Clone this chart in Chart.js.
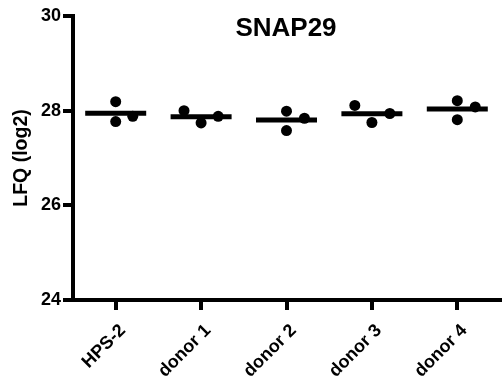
<!DOCTYPE html>
<html>
<head>
<meta charset="utf-8">
<script src="https://cdn.jsdelivr.net/npm/chart.js@4"></script>
<style>
  html, body { margin: 0; padding: 0; background: #fff; }
  #wrap { width: 503px; height: 380px; }
</style>
</head>
<body>
<div id="wrap"><canvas id="myChart" width="503" height="380"></canvas></div>
<script>
const groups = ['HPS-2', 'donor 1', 'donor 2', 'donor 3', 'donor 4'];
const rep1 = [28.19, 28.00, 27.99, 28.11, 28.21];
const rep2 = [27.77, 27.74, 27.58, 27.75, 27.81];
const rep3 = [27.88, 27.88, 27.84, 27.94, 28.08];
// horizontal spread of the dots inside a group (in category units)
const spread1 = [0, -0.2, 0, -0.2, 0];
const spread2 = [0, 0, 0, 0, 0];
const spread3 = [0.2, 0.2, 0.21, 0.21, 0.21];
const yTicks = [24, 26, 28, 30];

const font = 'Arial, "Liberation Sans", sans-serif';

const pts = (vals, sp) => vals.map((v, i) => ({ x: i + sp[i], y: v }));
const means = groups.map((g, i) => ({ x: i, y: (rep1[i] + rep2[i] + rep3[i]) / 3 }));

const dotStyle = {
    pointRadius: 5.5,
    pointBackgroundColor: '#000',
    pointBorderWidth: 0,
    showLine: false
};

const titleInside = {
    id: 'titleInside',
    afterDraw(chart) {
        const { ctx, chartArea } = chart;
        ctx.save();
        ctx.font = 'bold 26px ' + font;
        ctx.fillStyle = '#000';
        ctx.textAlign = 'center';
        ctx.textBaseline = 'middle';
        ctx.fillText('SNAP29', 286, chartArea.top + 13);
        ctx.restore();
    }
};

new Chart(document.getElementById('myChart'), {
    type: 'scatter',
    data: {
        datasets: [
            { data: means, pointStyle: 'line', pointRadius: 30.5, pointBorderWidth: 5, pointBorderColor: '#000', showLine: false },
            { data: pts(rep1, spread1), ...dotStyle },
            { data: pts(rep2, spread2), ...dotStyle },
            { data: pts(rep3, spread3), ...dotStyle }
        ]
    },
    options: {
        responsive: false,
        animation: false,
        layout: { autoPadding: false, padding: { top: 16, right: 3, left: 10, bottom: 0 } },
        plugins: {
            legend: { display: false },
            tooltip: { enabled: false }
        },
        scales: {
            x: {
                type: 'linear',
                min: -0.5,
                max: 4.5,
                afterBuildTicks: s => { s.ticks = groups.map((g, i) => ({ value: i })); },
                afterFit: s => { s.height = 80; },
                ticks: {
                    autoSkip: false,
                    minRotation: 45,
                    maxRotation: 45,
                    color: '#000',
                    padding: 10,
                    labelOffset: 7,
                    font: { family: font, size: 18, weight: 'bold' },
                    callback: v => groups[v]
                },
                grid: { drawOnChartArea: false, color: '#000', lineWidth: 4, tickLength: 10 },
                border: { color: '#000', width: 4 }
            },
            y: {
                min: 24,
                max: 30,
                afterBuildTicks: s => { s.ticks = yTicks.map(v => ({ value: v })); },
                afterFit: s => { s.width = 63; },
                title: {
                    display: true,
                    text: 'LFQ (log2)',
                    color: '#000',
                    padding: { top: 0, bottom: 0 },
                    font: { family: font, size: 19.5, weight: 'bold' }
                },
                ticks: {
                    color: '#000',
                    padding: 2,
                    font: { family: font, size: 18, weight: 'bold' }
                },
                grid: { drawOnChartArea: false, color: '#000', lineWidth: 4, tickLength: 10 },
                border: { color: '#000', width: 4 }
            }
        }
    },
    plugins: [titleInside]
});
</script>
</body>
</html>
